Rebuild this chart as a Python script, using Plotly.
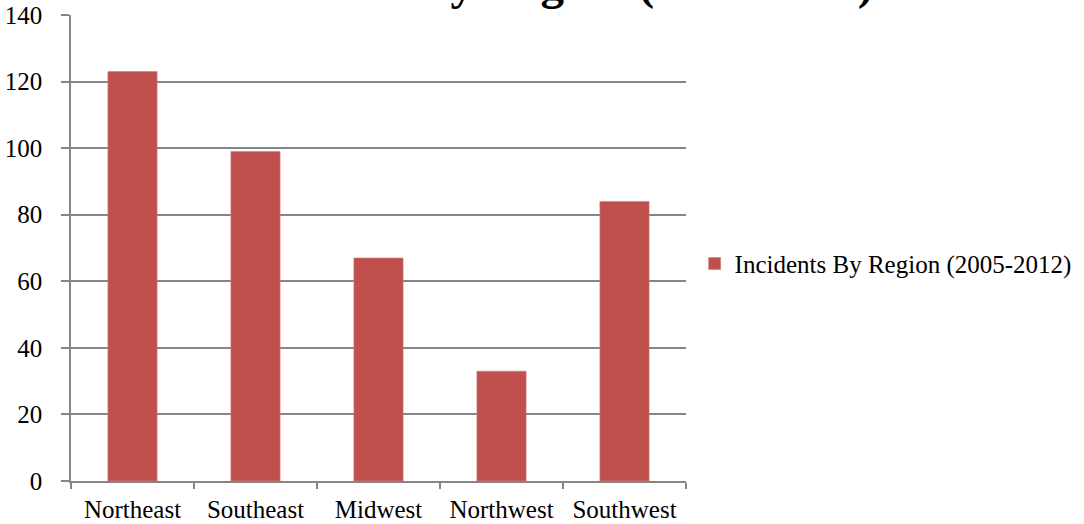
import plotly.graph_objects as go

regions = ["Northeast", "Southeast", "Midwest", "Northwest", "Southwest"]
incidents = [123, 99, 67, 33, 84]
series_name = "Incidents By Region (2005-2012)"
y_ticks = [0, 20, 40, 60, 80, 100, 120, 140]

BAR = "#C0504D"
GRID = "#868686"
FONT = "Liberation Serif, Times New Roman, serif"

fig = go.Figure()
fig.add_trace(go.Bar(
    x=regions,
    y=incidents,
    name=series_name,
    marker=dict(color=BAR, line=dict(color="#D27E7C", width=0.6)),
    showlegend=True,
))

# chart heading sits high above the plot, running off the top edge
fig.add_annotation(
    text="<b>" + series_name + "</b>",
    font=dict(family=FONT, size=47, color="black"),
    xref="paper",
    yref="paper",
    x=0.775,
    xanchor="center",
    y=1.0086,
    yanchor="bottom",
    showarrow=False,
)

fig.update_layout(
    width=1084,
    height=524,
    margin=dict(l=71, r=398, t=15, b=43, autoexpand=False),
    paper_bgcolor="white",
    plot_bgcolor="white",
    bargap=0.6,
    font=dict(family=FONT, size=25, color="black"),
    legend=dict(
        x=1.014,
        xanchor="left",
        y=0.466,
        yanchor="middle",
        font=dict(family=FONT, size=25, color="black"),
        bgcolor="rgba(0,0,0,0)",
    ),
    xaxis=dict(
        type="category",
        automargin=False,
        showline=True,
        linecolor=GRID,
        linewidth=1.5,
        ticks="outside",
        tickson="boundaries",
        ticklen=6,
        tickcolor=GRID,
        tickwidth=1.5,
        showgrid=False,
        ticklabelstandoff=5,
        tickfont=dict(family=FONT, size=25),
    ),
    yaxis=dict(
        range=[0, 140],
        automargin=False,
        tickvals=y_ticks,
        showline=True,
        linecolor=GRID,
        linewidth=1.5,
        ticks="outside",
        ticklen=8,
        tickcolor=GRID,
        tickwidth=1.5,
        showgrid=True,
        gridcolor=GRID,
        gridwidth=1.5,
        zeroline=False,
        ticklabelstandoff=14,
        tickfont=dict(family=FONT, size=25),
    ),
)

fig.write_html("out.html")
